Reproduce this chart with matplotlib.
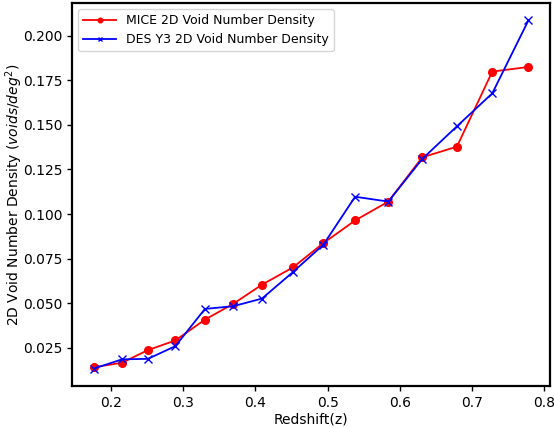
import matplotlib

matplotlib.use("Agg")
import matplotlib.pyplot as plt

# redshift bin centres
z = [0.176, 0.215, 0.251, 0.289, 0.330, 0.369, 0.409, 0.452,
     0.494, 0.538, 0.584, 0.631, 0.679, 0.728, 0.778]

# 2D void number density per bin (voids / deg^2)
mice_density = [0.0141, 0.0166, 0.0237, 0.0291, 0.0408, 0.0496, 0.0604, 0.0701,
                0.0837, 0.0964, 0.1070, 0.1318, 0.1378, 0.1799, 0.1825]
des_density = [0.0133, 0.0185, 0.0188, 0.0259, 0.0468, 0.0483, 0.0526, 0.0675,
               0.0828, 0.1097, 0.1070, 0.1309, 0.1492, 0.1677, 0.2086]

fig, ax = plt.subplots(figsize=(5.54, 4.28), dpi=100)
fig.subplots_adjust(left=0.130, right=0.993, top=0.993, bottom=0.098)

ax.plot(z, mice_density, "o-", color="red", lw=1.3, ms=5.5,
        label="MICE 2D Void Number Density")
ax.plot(z, des_density, "x-", color="blue", lw=1.3, ms=5.5,
        label="DES Y3 2D Void Number Density")

ax.set_xlabel("Redshift(z)", labelpad=2)
ax.set_ylabel("2D Void Number Density ($voids/deg^2$)")
ax.yaxis.set_label_coords(-0.099, 0.5)
ax.legend(loc="upper left", fontsize=9, markerscale=0.6, handlelength=2.6)
ax.tick_params(width=1.0)
for s in ax.spines.values():
    s.set_linewidth(1.6)

fig.savefig("out.png", dpi=100)
